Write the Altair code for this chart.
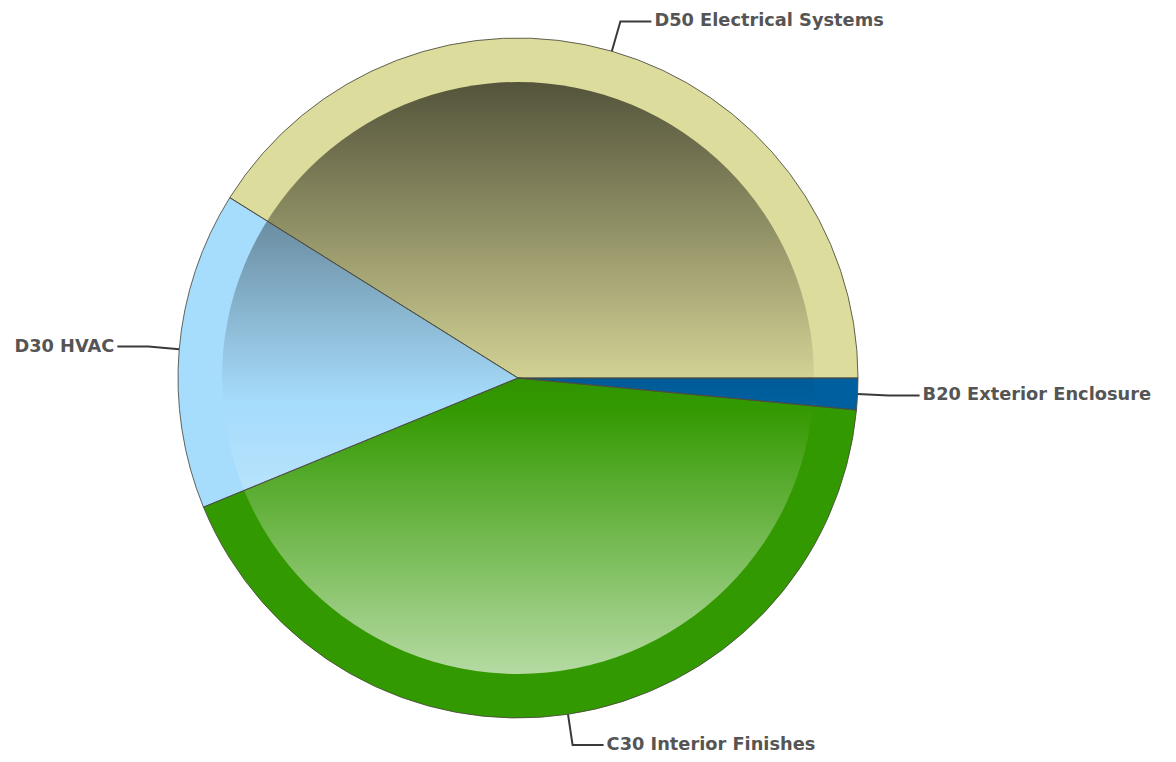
import math
import altair as alt
import pandas as pd

# ---- data ----
categories = ["B20 Exterior Enclosure", "C30 Interior Finishes", "D30 HVAC", "D50 Electrical Systems"]
values = [1.5, 42.3, 15.1, 41.1]
colors = ["#005f9e", "#339900", "#a6dcfc", "#dcdc9c"]

# ---- layout ----
W, H = 1160, 746
CX, CY = 510, 370
R_OUT = 340
R_IN = 296
R_ELBOW = 371
TAIL = 31
GAP = 3
START = math.pi / 2  # first slice starts at 3 o'clock

df = pd.DataFrame({"cat": categories, "value": values, "order": list(range(len(categories)))})

# leader lines / label anchors derived from the slice values
total = sum(values)
line_rows, label_rows = [], []
cum = 0.0
for c, v in zip(categories, values):
    mid = START + 2 * math.pi * (cum + v / 2) / total
    cum += v
    sx, sy = CX + R_OUT * math.sin(mid), CY - R_OUT * math.cos(mid)
    ex, ey = CX + R_ELBOW * math.sin(mid), CY - R_ELBOW * math.cos(mid)
    side = 1 if math.sin(mid) >= 0 else -1
    tx = ex + side * TAIL
    line_rows += [
        dict(cat=c, step=0, x=sx, y=sy),
        dict(cat=c, step=1, x=ex, y=ey),
        dict(cat=c, step=2, x=tx, y=ey),
    ]
    label_rows.append(dict(cat=c, x=tx + side * GAP, y=ey, side="right" if side > 0 else "left"))

lines_df = pd.DataFrame(line_rows)
labels_df = pd.DataFrame(label_rows)

xs = alt.Scale(domain=[0, W], nice=False, zero=False)
ys = alt.Scale(domain=[0, H], nice=False, zero=False, reverse=True)

theta = alt.Theta("value:Q", stack=True, scale=alt.Scale(range=[START, START + 2 * math.pi]))

slices = alt.Chart(df).mark_arc(outerRadius=R_OUT).encode(
    theta=theta,
    color=alt.Color("cat:N", scale=alt.Scale(domain=categories, range=colors), legend=None),
    order=alt.Order("order:Q"),
    x=alt.value(CX),
    y=alt.value(CY),
)

grad = alt.LinearGradient(
    gradient="linear",
    stops=[
        alt.GradientStop(color="rgba(0,0,0,0.62)", offset=0),
        alt.GradientStop(color="rgba(0,0,0,0.34)", offset=0.25),
        alt.GradientStop(color="rgba(0,0,0,0)", offset=0.54),
        alt.GradientStop(color="rgba(255,255,255,0)", offset=0.55),
        alt.GradientStop(color="rgba(255,255,255,0.64)", offset=1),
    ],
    x1=0, x2=0, y1=0, y2=1,
)

overlay = alt.Chart(pd.DataFrame({"k": [0]})).mark_arc(
    outerRadius=R_IN, theta=0, theta2=2 * math.pi, fill=grad
).encode(x=alt.value(CX), y=alt.value(CY))

outlines = alt.Chart(df).mark_arc(
    outerRadius=R_OUT, fillOpacity=0, stroke="#4a4a40", strokeWidth=1, strokeOpacity=0.85
).encode(
    theta=theta,
    order=alt.Order("order:Q"),
    x=alt.value(CX),
    y=alt.value(CY),
)

leaders = alt.Chart(lines_df).mark_line(color="#3a3a3a", strokeWidth=2).encode(
    x=alt.X("x:Q", scale=xs, axis=None),
    y=alt.Y("y:Q", scale=ys, axis=None),
    detail="cat:N",
    order="step:Q",
)

text_style = dict(baseline="middle", font="DejaVu Sans", fontWeight="bold", fontSize=17.8, color="#555555")

text_right = alt.Chart(labels_df).transform_filter(alt.datum.side == "right").mark_text(
    align="left", **text_style
).encode(
    x=alt.X("x:Q", scale=xs, axis=None),
    y=alt.Y("y:Q", scale=ys, axis=None),
    text="cat:N",
)

text_left = alt.Chart(labels_df).transform_filter(alt.datum.side == "left").mark_text(
    align="right", **text_style
).encode(
    x=alt.X("x:Q", scale=xs, axis=None),
    y=alt.Y("y:Q", scale=ys, axis=None),
    text="cat:N",
)

chart = alt.layer(slices, overlay, outlines, leaders, text_right, text_left).properties(
    width=W, height=H, padding=0, autosize=alt.AutoSizeParams(type="none")
).configure_view(strokeOpacity=0)

chart.save("out.html", embed_options={"renderer": "svg", "actions": False})
